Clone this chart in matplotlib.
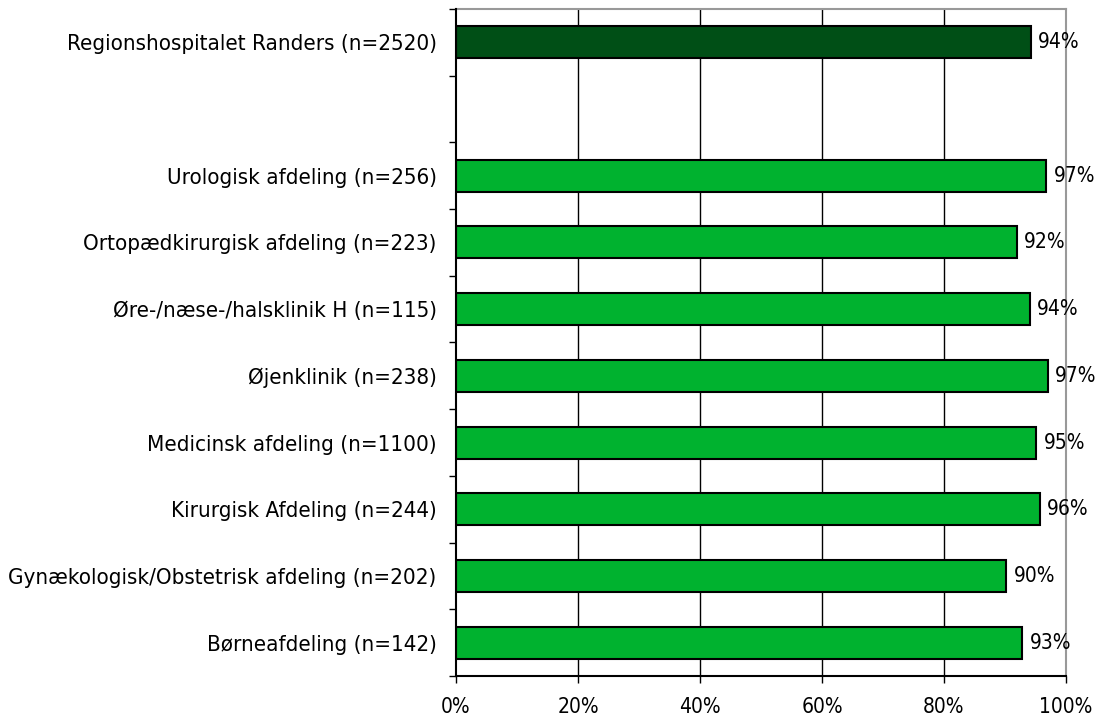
import matplotlib.pyplot as plt
from matplotlib.ticker import FixedLocator, PercentFormatter

plt.rcParams['font.family'] = ['DejaVu Sans']
plt.rcParams['font.stretch'] = 'condensed'

# data (top to bottom)
hospital = 'Regionshospitalet Randers (n=2520)'
hospital_value = 94.2

departments = ['Urologisk afdeling (n=256)',
               'Ortopædkirurgisk afdeling (n=223)',
               'Øre-/næse-/halsklinik H (n=115)',
               'Øjenklinik (n=238)',
               'Medicinsk afdeling (n=1100)',
               'Kirurgisk Afdeling (n=244)',
               'Gynækologisk/Obstetrisk afdeling (n=202)',
               'Børneafdeling (n=142)']
dept_values = [96.8, 91.9, 94.1, 97.0, 95.1, 95.7, 90.2, 92.8]
dept_labels = ['97%', '92%', '94%', '97%', '95%', '96%', '90%', '93%']

dark_green = '#004f16'
light_green = '#00b22f'
fs = 15

fig = plt.figure(figsize=(11.04, 7.2), dpi=100)
ax = fig.add_axes([456/1104, 44/720, 610/1104, 667/720])

# slot 0 = hospital, slot 1 empty, slots 2..9 departments
ypos_h = 0
ypos_d = list(range(2, 2 + len(departments)))

ax.barh(ypos_h, hospital_value, height=0.48, color=dark_green,
        edgecolor='black', linewidth=1.5, zorder=3)
ax.barh(ypos_d, dept_values, height=0.48, color=light_green,
        edgecolor='black', linewidth=1.5, zorder=3)

ax.text(hospital_value + 1.2, ypos_h, '94%', va='center', ha='left', fontsize=fs)
for y, v, lab in zip(ypos_d, dept_values, dept_labels):
    ax.text(v + 1.2, y, lab, va='center', ha='left', fontsize=fs)

ax.set_xlim(0, 100)
ax.set_ylim(9.5, -0.5)

ax.set_xticks([0, 20, 40, 60, 80, 100])
ax.xaxis.set_major_formatter(PercentFormatter(decimals=0))
ax.tick_params(axis='x', length=5, width=1, labelsize=fs, pad=10, direction='out')

# category labels at bar centres, tick marks at slot boundaries
ax.set_yticks([ypos_h] + ypos_d)
ax.set_yticklabels([hospital] + departments, fontsize=16)
ax.tick_params(axis='y', which='major', length=0, pad=14)
ax.yaxis.set_minor_locator(FixedLocator([i - 0.5 for i in range(11)]))
ax.tick_params(axis='y', which='minor', length=5, width=1, direction='out')

for x in [20, 40, 60, 80]:
    ax.axvline(x, color='black', linewidth=1, zorder=1)

ax.spines['left'].set_color('black')
ax.spines['bottom'].set_color('black')
ax.spines['top'].set_color('#999999')
ax.spines['right'].set_color('#999999')
for s in ax.spines.values():
    s.set_linewidth(1.5)
ax.spines['left'].set_zorder(4)

fig.savefig('out.png', dpi=100)
